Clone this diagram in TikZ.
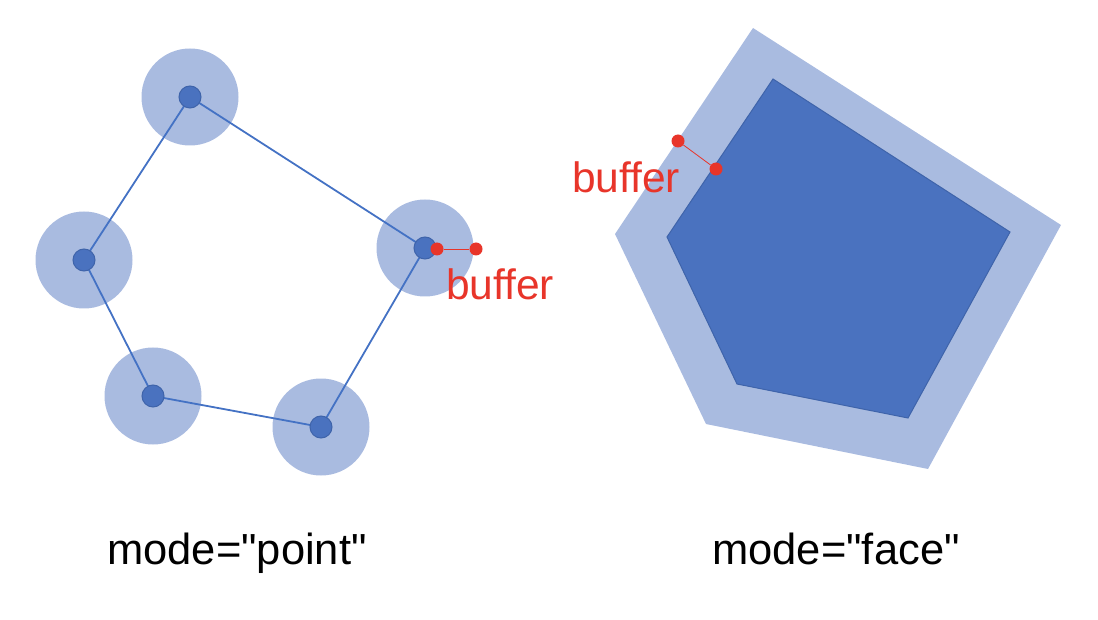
\documentclass[tikz,border=0pt]{standalone}
\usepackage{fontspec}
\setmainfont{Liberation Sans}[Ligatures=TeXOff]
\definecolor{lightb}{HTML}{A9BBE0}
\definecolor{darkb}{HTML}{4A72BF}
\definecolor{edgeb}{HTML}{3F64AA}
\definecolor{lineb}{HTML}{4472C4}
\definecolor{redc}{HTML}{E8352A}
\begin{document}
\begin{tikzpicture}[x=1pt,y=-1pt,
  bufcircle/.style={circle,fill=lightb,inner sep=0,minimum size=97pt},
  vertex/.style={circle,fill=darkb,draw=edgeb,line width=1pt,inner sep=0,minimum size=22pt},
  reddot/.style={circle,fill=redc,inner sep=0,minimum size=13pt},
  lbl/.style={font=\fontsize{43.5}{50}\selectfont,inner sep=0},
  redlbl/.style={font=\fontsize{42.5}{50}\selectfont,text=redc,inner sep=0,anchor=base west},
  edge/.style={draw=lineb,line width=1.8pt}]
\useasboundingbox (0,0) rectangle (1098,620);
% left: point mode
\foreach \n/\x/\y in {a/190/97,b/84/260,c/153/396,d/321/427,e/425/248}{
  \node[bufcircle] (big\n) at (\x,\y) {};
}
\path[edge] (bigb.center) -- (biga.center) -- (bige.center) -- (bigd.center) -- (bigc.center) -- (bigb.center);
\foreach \n in {a,b,c,d,e}{
  \node[vertex] (v\n) at (big\n.center) {};
}
\node[reddot] (r1) at (437,249) {};
\node[reddot] (r2) at (476,249) {};
\draw[redc,line width=0.8pt] (r1) -- (r2);
\node[redlbl] (buf1) at (446,300) {buffer};
% right: face mode
\fill[lightb] (753,28) -- (1061,225) -- (928,469) -- (706,424) -- (615,234) -- cycle;
\filldraw[fill=darkb,draw=edgeb,line width=1pt] (773,79) -- (1010,232) -- (908,418) -- (737,384) -- (667,237) -- cycle;
\node[reddot] (r3) at (678,141) {};
\node[reddot] (r4) at (716,169) {};
\draw[redc,line width=0.8pt] (r3) -- (r4);
\node[redlbl] (buf2) at (572,193) {buffer};
% labels
\node[lbl,anchor=base] (lp) at (237,564) {mode="point"};
\node[lbl,anchor=base] (lf) at (836,564) {mode="face"};
\end{tikzpicture}
\end{document}
